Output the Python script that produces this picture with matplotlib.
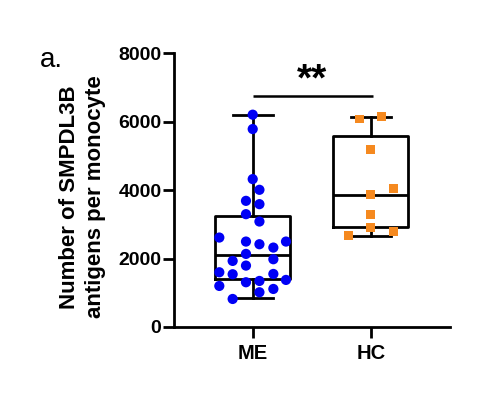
import matplotlib
matplotlib.use("Agg")
import matplotlib.pyplot as plt

plt.rcParams['font.family'] = ['Liberation Sans', 'DejaVu Sans']

categories = ["ME", "HC"]

me_values = [6210, 5790, 4326, 4013, 3690, 3593, 3300, 3085, 2616, 2499, 2421,
             2499, 2323, 2138, 1933, 1796, 1982, 1601, 1543, 1552, 1309, 1347,
             1377, 1201, 1113, 1016, 820]
me_jitter = [0, 0, 0, 0.057, -0.057, 0.057, -0.057, 0.057, -0.283, -0.057, 0.057,
             0.282, 0.175, -0.057, -0.17, -0.057, 0.175, -0.283, -0.17, 0.175,
             -0.057, 0.057, 0.282, -0.283, 0.175, 0.057, -0.17]

hc_values = [6083, 6160, 5185, 4042, 3866, 3281, 2920, 2665, 2791]
hc_jitter = [-0.097, 0.093, 0, 0.19, 0, 0, 0, -0.19, 0.19]

# box statistics as drawn: whislo, q1, median, q3, whishi
me_box = [840, 1406, 2109, 3251, 6210]
hc_box = [2675, 2920, 3866, 5574, 6142]

y_ticks = [0, 2000, 4000, 6000, 8000]
sig_label = "**"
sig_y = 6766
ylabel = "Number of SMPDL3B\nantigens per monocyte"

fig = plt.figure(figsize=(4.96, 3.98), dpi=100)
ax = fig.add_axes([0.3508, 0.1784, 0.9073 - 0.3508, 0.8656 - 0.1784])

lw = 2.0
stats = []
for lab, b in zip(categories, [me_box, hc_box]):
    stats.append(dict(label=lab, whislo=b[0], q1=b[1], med=b[2], q3=b[3], whishi=b[4], fliers=[]))
ax.bxp(stats, positions=[0, 1], widths=0.64, showfliers=False,
       boxprops=dict(color='black', linewidth=lw),
       medianprops=dict(color='black', linewidth=lw),
       whiskerprops=dict(color='black', linewidth=lw),
       capprops=dict(color='black', linewidth=lw),
       capwidths=0.34, zorder=2)

ax.scatter([0 + j for j in me_jitter], me_values, s=54, marker='o',
           color='#0000f5', edgecolors='none', zorder=3)
ax.scatter([1 + j for j in hc_jitter], hc_values, s=40, marker='s',
           color='#f5891f', edgecolors='none', zorder=3)

ax.plot([0, 1.02], [sig_y, sig_y], color='black', linewidth=1.8, solid_capstyle='butt')
ax.text(0.5, sig_y - 80, sig_label, ha='center', va='bottom', fontsize=28, fontweight='bold')

ax.set_xlim(-0.667, 1.672)
ax.set_ylim(0, 8000)
ax.set_yticks(y_ticks)
ax.set_yticklabels([str(t) for t in y_ticks])
ax.set_xticks([0, 1])
ax.set_xticklabels(categories)

for s in ['top', 'right']:
    ax.spines[s].set_visible(False)
for s in ['left', 'bottom']:
    ax.spines[s].set_linewidth(lw)
ax.tick_params(axis='both', width=lw, length=8, labelsize=14, pad=1)
ax.tick_params(axis='x', labelsize=14.5, pad=4)
for t in ax.get_xticklabels() + ax.get_yticklabels():
    t.set_fontweight('bold')

fig.text(0.167, 0.505, ylabel, rotation=90, ha='center', va='center',
         fontsize=16, fontweight='bold', multialignment='center', linespacing=1.3)
fig.text(0.081, 0.832, "a.", fontsize=20, ha='left', va='baseline')

fig.savefig("out.png", dpi=100)
